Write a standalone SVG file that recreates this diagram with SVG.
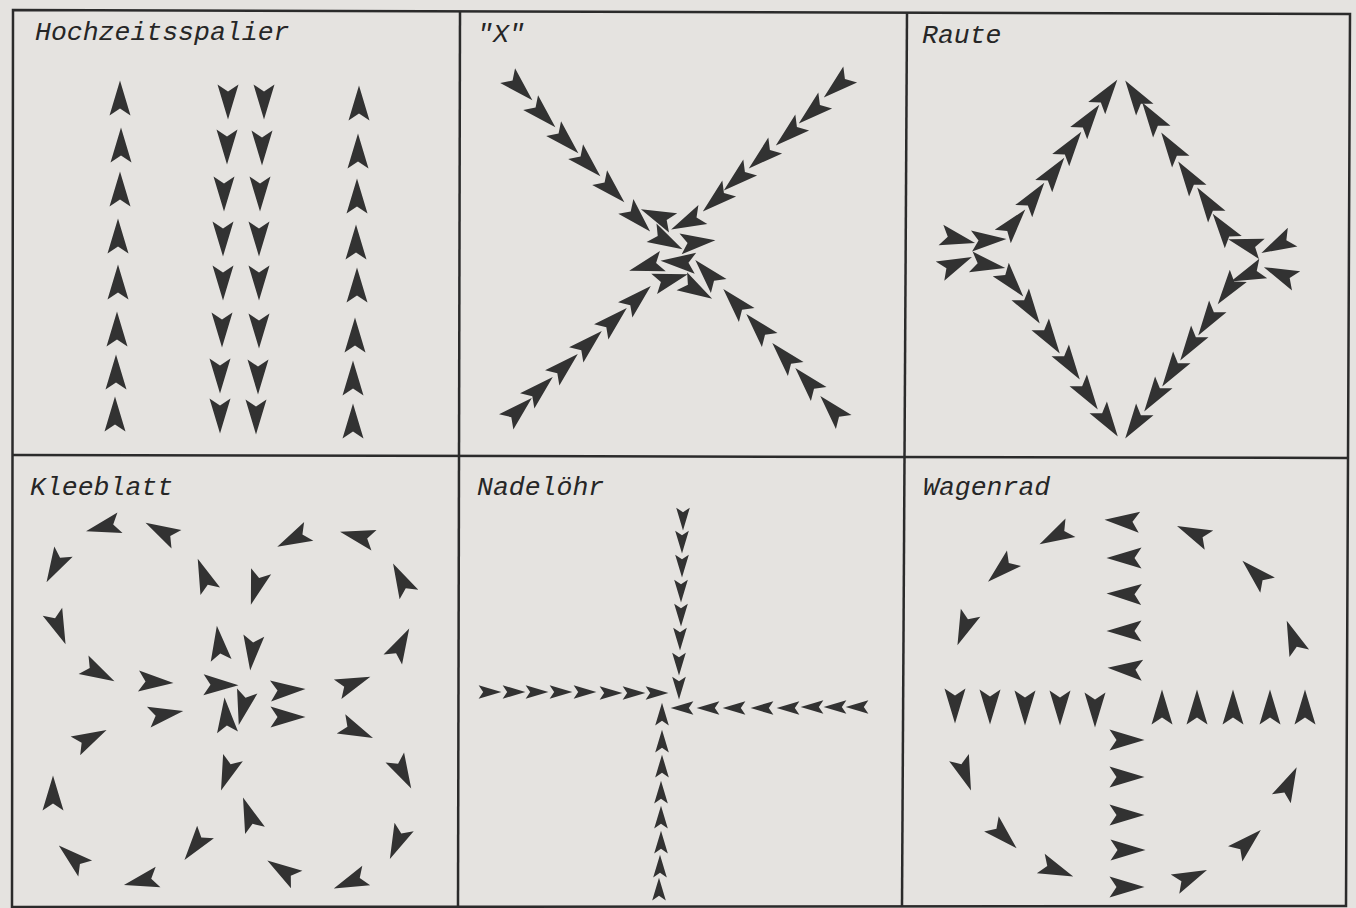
<svg xmlns="http://www.w3.org/2000/svg" width="1356" height="908" viewBox="0 0 1356 908">
<style>
.frame{fill:none;stroke:#2b2b2b;stroke-width:2.5;stroke-linejoin:miter}
.t{font-family:"Liberation Mono","DejaVu Sans Mono",monospace;font-style:italic;font-size:26.5px;fill:#262626}
.arrows{fill:#323232}
</style>
<defs>
<path id="a" d="M17.5,0 L-17.5,10.5 L-10.5,0 L-17.5,-10.5 Z"/>
</defs>
<rect x="0" y="0" width="1356" height="908" fill="#e5e3e0"/>
<g id="frame">
<polygon class="frame" points="13,10 1350,14 1346,906 12,907"/>
<line class="frame" x1="460" y1="11" x2="458" y2="907"/>
<line class="frame" x1="907" y1="12" x2="902" y2="906"/>
<line class="frame" x1="12" y1="455" x2="1348" y2="458"/>
</g>

<g id="hochzeitsspalier">
<text class="t" x="35" y="40">Hochzeitsspalier</text>
<g class="arrows">
<use href="#a" transform="translate(120,98) rotate(-90)"/>
<use href="#a" transform="translate(121,145) rotate(-90)"/>
<use href="#a" transform="translate(120,189) rotate(-90)"/>
<use href="#a" transform="translate(118,236) rotate(-90)"/>
<use href="#a" transform="translate(118,282) rotate(-90)"/>
<use href="#a" transform="translate(117,329) rotate(-90)"/>
<use href="#a" transform="translate(116,372) rotate(-90)"/>
<use href="#a" transform="translate(115,414) rotate(-90)"/>
<use href="#a" transform="translate(228,102) rotate(90)"/>
<use href="#a" transform="translate(227,147) rotate(90)"/>
<use href="#a" transform="translate(224,194) rotate(90)"/>
<use href="#a" transform="translate(223,239) rotate(90)"/>
<use href="#a" transform="translate(223,283) rotate(90)"/>
<use href="#a" transform="translate(222,330) rotate(90)"/>
<use href="#a" transform="translate(220,376) rotate(90)"/>
<use href="#a" transform="translate(220,416) rotate(90)"/>
<use href="#a" transform="translate(264,102) rotate(90)"/>
<use href="#a" transform="translate(262,148) rotate(90)"/>
<use href="#a" transform="translate(260,194) rotate(90)"/>
<use href="#a" transform="translate(259,239) rotate(90)"/>
<use href="#a" transform="translate(259,283) rotate(90)"/>
<use href="#a" transform="translate(259,331) rotate(90)"/>
<use href="#a" transform="translate(258,377) rotate(90)"/>
<use href="#a" transform="translate(256,417) rotate(90)"/>
<use href="#a" transform="translate(359,103) rotate(-90)"/>
<use href="#a" transform="translate(358,151) rotate(-90)"/>
<use href="#a" transform="translate(357,196) rotate(-90)"/>
<use href="#a" transform="translate(356,242) rotate(-90)"/>
<use href="#a" transform="translate(357,285) rotate(-90)"/>
<use href="#a" transform="translate(355,335) rotate(-90)"/>
<use href="#a" transform="translate(353,378) rotate(-90)"/>
<use href="#a" transform="translate(353,421) rotate(-90)"/>
</g>
</g>

<g id="x-formation">
<text class="t" x="477" y="42">"X"</text>
<g class="arrows">
<use href="#a" transform="translate(520,88) rotate(45)"/>
<use href="#a" transform="translate(543,115) rotate(45)"/>
<use href="#a" transform="translate(566,141) rotate(45)"/>
<use href="#a" transform="translate(588,164) rotate(45)"/>
<use href="#a" transform="translate(612,190) rotate(45)"/>
<use href="#a" transform="translate(638,219) rotate(46)"/>
<use href="#a" transform="translate(837,86) rotate(139)"/>
<use href="#a" transform="translate(812,112) rotate(139)"/>
<use href="#a" transform="translate(789,134) rotate(139)"/>
<use href="#a" transform="translate(762,157) rotate(139)"/>
<use href="#a" transform="translate(737,179) rotate(139)"/>
<use href="#a" transform="translate(716,200) rotate(139)"/>
<use href="#a" transform="translate(687,222) rotate(155)"/>
<use href="#a" transform="translate(519,410) rotate(-43)"/>
<use href="#a" transform="translate(540,389) rotate(-43)"/>
<use href="#a" transform="translate(565,366) rotate(-43)"/>
<use href="#a" transform="translate(589,343) rotate(-43)"/>
<use href="#a" transform="translate(614,320) rotate(-43)"/>
<use href="#a" transform="translate(638,298) rotate(-43)"/>
<use href="#a" transform="translate(671,279) rotate(-16)"/>
<use href="#a" transform="translate(707,273) rotate(228)"/>
<use href="#a" transform="translate(735,302) rotate(228)"/>
<use href="#a" transform="translate(758,327) rotate(228)"/>
<use href="#a" transform="translate(784,356) rotate(228)"/>
<use href="#a" transform="translate(807,381) rotate(228)"/>
<use href="#a" transform="translate(832,409) rotate(228)"/>
<use href="#a" transform="translate(657,216) rotate(203)"/>
<use href="#a" transform="translate(667,241) rotate(28)"/>
<use href="#a" transform="translate(698,242) rotate(-6)"/>
<use href="#a" transform="translate(646,266) rotate(164)"/>
<use href="#a" transform="translate(678,262) rotate(184)"/>
<use href="#a" transform="translate(697,290) rotate(30)"/>
</g>
</g>

<g id="raute">
<text class="t" x="922" y="43">Raute</text>
<g class="arrows">
<use href="#a" transform="translate(1107,94) rotate(-54)"/>
<use href="#a" transform="translate(1089,119) rotate(-54)"/>
<use href="#a" transform="translate(1071,146) rotate(-54)"/>
<use href="#a" transform="translate(1054,172) rotate(-54)"/>
<use href="#a" transform="translate(1034,197) rotate(-54)"/>
<use href="#a" transform="translate(1014,223) rotate(-50)"/>
<use href="#a" transform="translate(1135,95) rotate(236)"/>
<use href="#a" transform="translate(1152,117) rotate(236)"/>
<use href="#a" transform="translate(1171,147) rotate(236)"/>
<use href="#a" transform="translate(1188,176) rotate(236)"/>
<use href="#a" transform="translate(1207,202) rotate(236)"/>
<use href="#a" transform="translate(1223,228) rotate(234)"/>
<use href="#a" transform="translate(958,239) rotate(13)"/>
<use href="#a" transform="translate(989,240) rotate(-3)"/>
<use href="#a" transform="translate(956,264) rotate(-24)"/>
<use href="#a" transform="translate(988,265) rotate(10)"/>
<use href="#a" transform="translate(1245,244) rotate(196)"/>
<use href="#a" transform="translate(1277,245) rotate(153)"/>
<use href="#a" transform="translate(1247,275) rotate(158)"/>
<use href="#a" transform="translate(1280,274) rotate(203)"/>
<use href="#a" transform="translate(1012,283) rotate(50)"/>
<use href="#a" transform="translate(1030,309) rotate(56)"/>
<use href="#a" transform="translate(1050,339) rotate(56)"/>
<use href="#a" transform="translate(1070,365) rotate(56)"/>
<use href="#a" transform="translate(1088,395) rotate(56)"/>
<use href="#a" transform="translate(1108,422) rotate(56)"/>
<use href="#a" transform="translate(1228,290) rotate(126)"/>
<use href="#a" transform="translate(1208,321) rotate(124)"/>
<use href="#a" transform="translate(1190,346) rotate(124)"/>
<use href="#a" transform="translate(1172,372) rotate(124)"/>
<use href="#a" transform="translate(1154,397) rotate(124)"/>
<use href="#a" transform="translate(1135,424) rotate(124)"/>
</g>
</g>

<g id="kleeblatt">
<text class="t" x="30" y="495">Kleeblatt</text>
<g class="arrows">
<use href="#a" transform="translate(103,527) rotate(166)"/>
<use href="#a" transform="translate(161,531) rotate(208)"/>
<use href="#a" transform="translate(55,567) rotate(119)"/>
<use href="#a" transform="translate(204,575) rotate(249)"/>
<use href="#a" transform="translate(256,588) rotate(107)"/>
<use href="#a" transform="translate(293,539) rotate(154)"/>
<use href="#a" transform="translate(357,536) rotate(194)"/>
<use href="#a" transform="translate(401,579) rotate(243)"/>
<use href="#a" transform="translate(59,628) rotate(68)"/>
<use href="#a" transform="translate(99,673) rotate(28)"/>
<use href="#a" transform="translate(156,682) rotate(3)"/>
<use href="#a" transform="translate(219,643) rotate(263)"/>
<use href="#a" transform="translate(252,653) rotate(96)"/>
<use href="#a" transform="translate(221,685) rotate(1)"/>
<use href="#a" transform="translate(243,708) rotate(104)"/>
<use href="#a" transform="translate(226,715) rotate(265)"/>
<use href="#a" transform="translate(288,690) rotate(-3)"/>
<use href="#a" transform="translate(166,714) rotate(-10)"/>
<use href="#a" transform="translate(288,717) rotate(0)"/>
<use href="#a" transform="translate(354,683) rotate(-21)"/>
<use href="#a" transform="translate(401,644) rotate(-62)"/>
<use href="#a" transform="translate(357,731) rotate(24)"/>
<use href="#a" transform="translate(91,738) rotate(-27)"/>
<use href="#a" transform="translate(227,774) rotate(110)"/>
<use href="#a" transform="translate(403,773) rotate(62)"/>
<use href="#a" transform="translate(53,793) rotate(270)"/>
<use href="#a" transform="translate(249,814) rotate(250)"/>
<use href="#a" transform="translate(195,846) rotate(127)"/>
<use href="#a" transform="translate(397,843) rotate(114)"/>
<use href="#a" transform="translate(72,857) rotate(221)"/>
<use href="#a" transform="translate(141,881) rotate(167)"/>
<use href="#a" transform="translate(282,870) rotate(213)"/>
<use href="#a" transform="translate(350,882) rotate(158)"/>
</g>
</g>

<g id="nadeloehr">
<text class="t" x="477" y="495">Nadelöhr</text>
<g class="arrows">
<use href="#a" transform="translate(683,519) rotate(90) scale(0.65)"/>
<use href="#a" transform="translate(682,542) rotate(90) scale(0.65)"/>
<use href="#a" transform="translate(682,566) rotate(90) scale(0.65)"/>
<use href="#a" transform="translate(681,591) rotate(90) scale(0.65)"/>
<use href="#a" transform="translate(681,615) rotate(90) scale(0.65)"/>
<use href="#a" transform="translate(680,639) rotate(90) scale(0.65)"/>
<use href="#a" transform="translate(679,664) rotate(90) scale(0.65)"/>
<use href="#a" transform="translate(679,688) rotate(90) scale(0.65)"/>
<use href="#a" transform="translate(490,692) scale(0.65)"/>
<use href="#a" transform="translate(514,692) scale(0.65)"/>
<use href="#a" transform="translate(537,692) scale(0.65)"/>
<use href="#a" transform="translate(561,692) scale(0.65)"/>
<use href="#a" transform="translate(585,692) scale(0.65)"/>
<use href="#a" transform="translate(611,693) scale(0.65)"/>
<use href="#a" transform="translate(634,693) scale(0.65)"/>
<use href="#a" transform="translate(657,693) scale(0.65)"/>
<use href="#a" transform="translate(682,708) rotate(180) scale(0.65)"/>
<use href="#a" transform="translate(708,708) rotate(180) scale(0.65)"/>
<use href="#a" transform="translate(734,708) rotate(180) scale(0.65)"/>
<use href="#a" transform="translate(762,708) rotate(180) scale(0.65)"/>
<use href="#a" transform="translate(788,708) rotate(180) scale(0.65)"/>
<use href="#a" transform="translate(812,707) rotate(180) scale(0.65)"/>
<use href="#a" transform="translate(835,707) rotate(180) scale(0.65)"/>
<use href="#a" transform="translate(857,707) rotate(180) scale(0.65)"/>
<use href="#a" transform="translate(662,714) rotate(-90) scale(0.65)"/>
<use href="#a" transform="translate(662,741) rotate(-90) scale(0.65)"/>
<use href="#a" transform="translate(662,766) rotate(-90) scale(0.65)"/>
<use href="#a" transform="translate(661,792) rotate(-90) scale(0.65)"/>
<use href="#a" transform="translate(661,817) rotate(-90) scale(0.65)"/>
<use href="#a" transform="translate(661,842) rotate(-90) scale(0.65)"/>
<use href="#a" transform="translate(660,866) rotate(-90) scale(0.65)"/>
<use href="#a" transform="translate(659,889) rotate(-90) scale(0.65)"/>
</g>
</g>

<g id="wagenrad">
<text class="t" x="923" y="495">Wagenrad</text>
<g class="arrows">
<use href="#a" transform="translate(1122,521) rotate(184)"/>
<use href="#a" transform="translate(1124,558) rotate(180)"/>
<use href="#a" transform="translate(1124,594) rotate(182)"/>
<use href="#a" transform="translate(1124,631) rotate(180)"/>
<use href="#a" transform="translate(1125,669) rotate(184)"/>
<use href="#a" transform="translate(1055,536) rotate(152)"/>
<use href="#a" transform="translate(1001,570) rotate(138)"/>
<use href="#a" transform="translate(964,629) rotate(112)"/>
<use href="#a" transform="translate(1193,533) rotate(204)"/>
<use href="#a" transform="translate(1255,573) rotate(224)"/>
<use href="#a" transform="translate(1293,637) rotate(249)"/>
<use href="#a" transform="translate(955,706) rotate(90)"/>
<use href="#a" transform="translate(990,707) rotate(90)"/>
<use href="#a" transform="translate(1025,708) rotate(90)"/>
<use href="#a" transform="translate(1060,708) rotate(90)"/>
<use href="#a" transform="translate(1095,710) rotate(90)"/>
<use href="#a" transform="translate(1162,707) rotate(-90)"/>
<use href="#a" transform="translate(1197,707) rotate(-90)"/>
<use href="#a" transform="translate(1233,707) rotate(-90)"/>
<use href="#a" transform="translate(1270,707) rotate(-90)"/>
<use href="#a" transform="translate(1305,707) rotate(-90)"/>
<use href="#a" transform="translate(1127,740)"/>
<use href="#a" transform="translate(1127,777)"/>
<use href="#a" transform="translate(1127,815)"/>
<use href="#a" transform="translate(1128,850)"/>
<use href="#a" transform="translate(1127,887)"/>
<use href="#a" transform="translate(965,774) rotate(70)"/>
<use href="#a" transform="translate(1004,836) rotate(44)"/>
<use href="#a" transform="translate(1057,870) rotate(22)"/>
<use href="#a" transform="translate(1191,877) rotate(-24)"/>
<use href="#a" transform="translate(1248,842) rotate(-43)"/>
<use href="#a" transform="translate(1289,783) rotate(-64)"/>
</g>
</g>
</svg>
